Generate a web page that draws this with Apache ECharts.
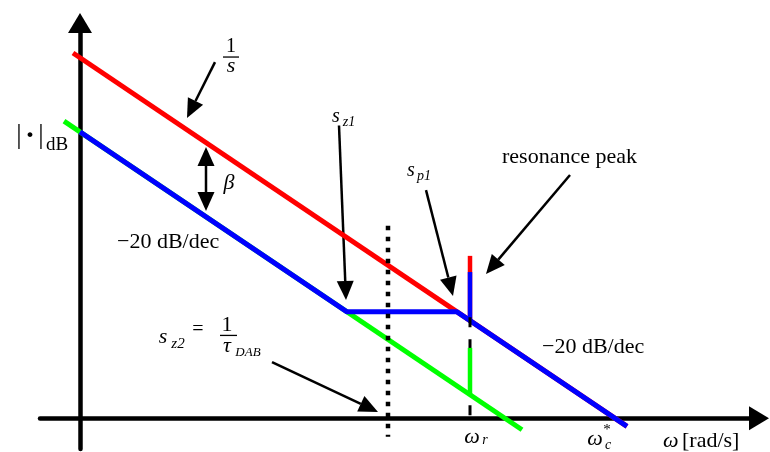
<!DOCTYPE html>
<html>
<head>
<meta charset="utf-8">
<script src="https://cdn.jsdelivr.net/npm/echarts@6/dist/echarts.min.js"></script>
<style>
  html, body { margin: 0; padding: 0; background: #fff; }
  #chart { width: 770px; height: 452px; }
</style>
</head>
<body>
<div id="chart"></div>
<script>
// Asymptotic magnitude sketch: x = log10(omega) in decades, y = magnitude in dB.
const xRange = [-0.4, 6.79];
const yRange = [-9.11, 117.3];

// 1/s reference: -20 dB/dec, crossing 0 dB at omega_c*
const integratorLine = [[-0.07, 108.4], [5.47, -2.4]];
// low-frequency asymptote with the zero s_z2 = 1/tau_DAB
const lowFreqLine = [[-0.16, 88.2], [4.42, -3.4]];
// loop gain: flat section between s_z1 and s_p1, then back to -20 dB/dec
const loopGainLine = [[0.0, 85.0], [2.67, 31.6], [3.77, 31.6], [5.47, -2.4]];
// resonance peak at omega_r
const peakRed = [[3.9, 29.0], [3.9, 48.2]];
const peakBlue = [[3.9, 29.0], [3.9, 43.4]];
const peakGreen = [[3.9, 7.0], [3.9, 20.9]];
// omega_r marker and crossover-limit marker
const omegaRMarker = [[3.9, 30.0], [3.9, 0.0]];
const boundaryMarker = [[3.08, 57.1], [3.08, -5.5]];

// annotation arrows: [x0, y0, xTip, yTip, doubleHeaded]
const arrows = [
  [1.35, 105.7, 1.07, 89.1, 0],
  [1.26, 80.5, 1.26, 61.5, 1],
  [2.59, 86.9, 2.66, 35.1, 0],
  [3.46, 67.7, 3.73, 36.3, 0],
  [4.90, 72.2, 4.06, 42.8, 0],
  [1.92, 16.7, 2.98, 1.9, 0]
];

const SERIF = '"Liberation Serif", "Times New Roman", serif';

// text annotations anchored in data coordinates; pieces offset in px
const labels = [
  { at: [1.51, 107.2], pieces: [
      { t: '1', dx: 0, dy: -10, size: 20 },
      { t: 's', dx: 0, dy: 9, size: 22, italic: true }
    ], bars: [[-8, 8, 0]] },
  { at: [1.49, 69.8], pieces: [{ t: 'β', dx: 0, dy: 0, size: 22, italic: true }] },
  { at: [-0.50, 83.8], pieces: [
      { t: '|', dx: -11, dy: 0, size: 27 },
      { t: '·', dx: 0, dy: 0, size: 30, bold: true },
      { t: '|', dx: 11, dy: 0, size: 27 },
      { t: 'dB', dx: 27, dy: 9, size: 19 }
    ] },
  { at: [0.37, 52.3], pieces: [{ t: '\u221220 dB/dec', dx: 0, dy: 0, size: 22, align: 'left' }] },
  { at: [4.62, 21.2], pieces: [{ t: '\u221220 dB/dec', dx: 0, dy: 0, size: 22, align: 'left' }] },
  { at: [4.22, 77.5], pieces: [{ t: 'resonance peak', dx: 0, dy: 0, size: 22, align: 'left' }] },
  { at: [2.56, 89.4], pieces: [
      { t: 's', dx: 0, dy: 0, size: 20, italic: true },
      { t: 'z1', dx: 13, dy: 5, size: 14, italic: true }
    ] },
  { at: [3.31, 73.4], pieces: [
      { t: 's', dx: 0, dy: 0, size: 20, italic: true },
      { t: 'p1', dx: 13, dy: 5, size: 14, italic: true }
    ] },
  { at: [0.83, 24.0], pieces: [
      { t: 's', dx: 0, dy: 0, size: 22, italic: true },
      { t: 'z2', dx: 15, dy: 7, size: 15, italic: true },
      { t: '=', dx: 35, dy: -8, size: 20 },
      { t: '1', dx: 64, dy: -12, size: 22 },
      { t: 'τ', dx: 64, dy: 9, size: 22, italic: true },
      { t: 'DAB', dx: 85, dy: 15, size: 13, italic: true }
    ], bars: [[57, 74, -2]] },
  { at: [3.92, -5.5], pieces: [
      { t: 'ω', dx: 0, dy: 0, size: 22, italic: true },
      { t: 'r', dx: 13, dy: 3, size: 14, italic: true }
    ] },
  { at: [5.15, -6.2], pieces: [
      { t: 'ω', dx: 0, dy: 0, size: 22, italic: true },
      { t: 'c', dx: 13, dy: 6, size: 14, italic: true },
      { t: '*', dx: 12, dy: -9, size: 15 }
    ] },
  { at: [5.83, -6.7], pieces: [
      { t: 'ω', dx: 0, dy: 0, size: 22, italic: true, align: 'left' },
      { t: '[rad/s]', dx: 19, dy: 0, size: 22, align: 'left' }
    ] }
];

const RED = '#ff0000', BLUE = '#0000ff', GREEN = '#00ff00', INK = '#000000';

function lineSeries(data, color, width, extra) {
  return Object.assign({
    type: 'line',
    data: data,
    symbol: 'none',
    clip: false,
    silent: true,
    lineStyle: { color: color, width: width, cap: 'butt' }
  }, extra || {});
}

const HEAD_LEN = 19, HEAD_HALF = 8.5;
function arrowHead(tip, from) {
  const dx = tip[0] - from[0], dy = tip[1] - from[1];
  const L = Math.hypot(dx, dy) || 1;
  const ux = dx / L, uy = dy / L;
  const bx = tip[0] - ux * HEAD_LEN, by = tip[1] - uy * HEAD_LEN;
  return {
    base: [bx, by],
    shape: { points: [[tip[0], tip[1]], [bx - uy * HEAD_HALF, by + ux * HEAD_HALF], [bx + uy * HEAD_HALF, by - ux * HEAD_HALF]] }
  };
}

const chart = echarts.init(document.getElementById('chart'), null, { renderer: 'canvas' });

const axisCommon = {
  type: 'value',
  axisTick: { show: false },
  axisLabel: { show: false },
  splitLine: { show: false },
  axisLine: {
    show: true,
    onZero: true,
    symbol: ['none', 'triangle'],
    symbolSize: [24, 20],
    lineStyle: { color: INK, width: 4.5 }
  }
};

chart.setOption({
  animation: false,
  backgroundColor: '#ffffff',
  grid: { left: 40, right: 11, top: 23, bottom: 3, containLabel: false },
  xAxis: Object.assign({}, axisCommon, { min: xRange[0], max: xRange[1] }),
  yAxis: Object.assign({}, axisCommon, { min: yRange[0], max: yRange[1] }),
  series: [
    lineSeries(integratorLine, RED, 5),
    lineSeries(lowFreqLine, GREEN, 5),
    lineSeries(peakRed, RED, 4.5),
    lineSeries(loopGainLine, BLUE, 5),
    lineSeries(peakBlue, BLUE, 4.5),
    lineSeries(omegaRMarker, INK, 3, { lineStyle: { color: INK, width: 3, type: [10, 12], cap: 'butt' } }),
    lineSeries(peakGreen, GREEN, 4.5),
    lineSeries(boundaryMarker, INK, 4.5, { lineStyle: { color: INK, width: 4.5, type: [4.5, 6.5], cap: 'butt' } }),
    {
      type: 'custom',
      data: arrows,
      silent: true,
      renderItem: function (params, api) {
        const p0 = api.coord([api.value(0), api.value(1)]);
        const p1 = api.coord([api.value(2), api.value(3)]);
        const both = api.value(4) === 1;
        const h1 = arrowHead(p1, p0);
        const children = [];
        let start = p0;
        if (both) {
          const h0 = arrowHead(p0, p1);
          start = h0.base;
          children.push({ type: 'polygon', shape: h0.shape, style: { fill: INK } });
        }
        children.push({
          type: 'line',
          shape: { x1: start[0], y1: start[1], x2: h1.base[0], y2: h1.base[1] },
          style: { stroke: INK, lineWidth: 2.5 }
        });
        children.push({ type: 'polygon', shape: h1.shape, style: { fill: INK } });
        return { type: 'group', children: children };
      }
    }
  ]
});

// place the text annotations once the axes are laid out
const graphics = [];
labels.forEach(function (lb) {
  const p = chart.convertToPixel({ xAxisIndex: 0, yAxisIndex: 0 }, lb.at);
  lb.pieces.forEach(function (pc) {
    graphics.push({
      type: 'text',
      x: p[0] + pc.dx,
      y: p[1] + pc.dy,
      silent: true,
      style: {
        text: pc.t,
        fill: INK,
        font: (pc.italic ? 'italic ' : '') + (pc.bold ? 'bold ' : '') + pc.size + 'px ' + SERIF,
        textAlign: pc.align || 'center',
        textVerticalAlign: 'middle',
        align: pc.align || 'center',
        verticalAlign: 'middle'
      }
    });
  });
  (lb.bars || []).forEach(function (b) {
    graphics.push({
      type: 'line',
      silent: true,
      shape: { x1: p[0] + b[0], y1: p[1] + b[2], x2: p[0] + b[1], y2: p[1] + b[2] },
      style: { stroke: INK, lineWidth: 1.3 }
    });
  });
});
chart.setOption({ graphic: { elements: graphics } });
</script>
</body>
</html>
